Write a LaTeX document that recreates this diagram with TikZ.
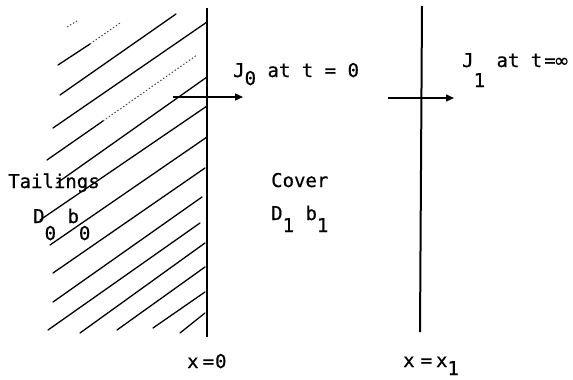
\documentclass[tikz,border=0pt]{standalone}
\usepackage{fontspec}
\newfontfamily\tw[FakeBold=0.6]{DejaVu Sans Mono}
\newfontfamily\dvs[FakeBold=0.6]{DejaVu Sans}
\usetikzlibrary{arrows.meta}
\newcommand\lowr[2]{\raisebox{-#1}{#2}}
\begin{document}
\begin{tikzpicture}[x=1pt,y=-1pt,
  hatch/.style={line width=1.3pt, line cap=round},
  faint/.style={line width=1pt, dash pattern=on 1.5pt off 2pt, black!70},
  wall/.style={line width=2pt},
  flux/.style={line width=1.4pt, -{Triangle[length=8pt,width=7pt]}},
  lbl/.style={anchor=base west, inner sep=0pt, font=\tw\fontsize{19}{21}\selectfont}]
\useasboundingbox (0,0) rectangle (573,380);
% hatching of the tailings
\draw[hatch] (58,65) -- (90,44);
\draw[faint] (90,44) -- (120,23);
\draw[faint] (67,27) -- (77,21);
\draw[hatch] (60,95) -- (176,14);
\draw[hatch] (53,128) -- (207,22);
\draw[hatch] (47,160) -- (103,121);
\draw[faint] (103,121) -- (197,55);
\draw[hatch] (57,183) -- (207,77);
\draw[hatch] (40,220) -- (207,106);
\draw[hatch] (50,245) -- (207,137);
\draw[hatch] (53,273) -- (205,168);
\draw[hatch] (53,302) -- (202,197);
\draw[hatch] (48,330) -- (200,223);
\draw[hatch] (80,333) -- (205,243);
\draw[hatch] (117,330) -- (205,267);
\draw[hatch] (153,328) -- (205,292);
\draw[hatch] (180,333) -- (205,313);
% interfaces
\coordinate (w0t) at (207,8);
\coordinate (w0b) at (207,337);
\coordinate (w1t) at (422,6);
\coordinate (w1b) at (420,332);
\draw[wall] (w0t) -- (w0b);
\draw[wall] (w1t) -- (w1b);
% fluxes
\coordinate (a0s) at (173,97);
\coordinate (a0e) at (243,97);
\coordinate (a1s) at (388,98);
\coordinate (a1e) at (454,98);
\draw[flux] (a0s) -- (a0e);
\draw[flux] (a1s) -- (a1e);
% labels
\node[lbl] (j0) at (233,77) {J\lowr{8pt}{0} at t = 0};
\node[lbl] (j1) at (462,67) {J\lowr{20pt}{1} at t\kern2pt=\kern-2pt{\dvs ∞}};
\node[lbl] (tail) at (8,188) {Tailings};
\node[lbl] (d0) at (33,223) {D\lowr{17pt}{0} b\lowr{17pt}{0}};
\node[lbl] (cov) at (271,187) {Cover};
\node[lbl] (d1) at (271,220) {D\lowr{12pt}{1} b\lowr{12pt}{1}};
\node[lbl] (x0) at (187,368) {x\kern4pt=\kern1pt0};
\node[lbl] (x1) at (403,367) {x\kern6pt=\kern4pt x\lowr{8pt}{1}};
\end{tikzpicture}
\end{document}
